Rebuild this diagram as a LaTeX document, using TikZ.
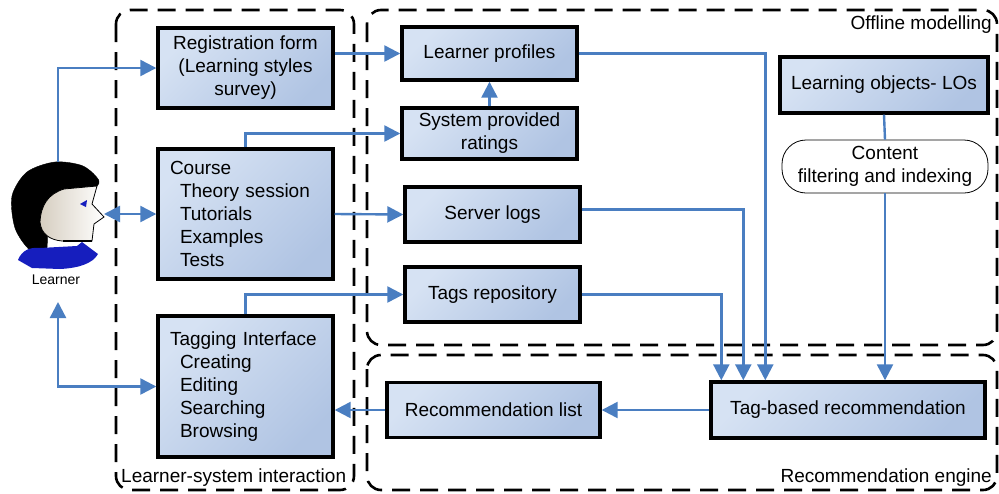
\documentclass[tikz,border=0pt]{standalone}
\usepackage{fontspec}
\setmainfont{Liberation Sans}
\usetikzlibrary{arrows.meta}
\definecolor{linkblue}{RGB}{74,126,193}
\definecolor{boxlight}{RGB}{214,226,243}
\definecolor{boxdark}{RGB}{176,196,227}
\definecolor{shirtblue}{RGB}{22,30,190}
\definecolor{skin}{RGB}{214,206,192}
\tikzset{
  databox/.style={draw=black, line width=3.4pt, top color=boxlight, bottom color=boxdark, shading angle=45, inner sep=0pt, font=\fontsize{19}{23}\selectfont},
  region/.style={draw=black, line width=2.6pt, dash pattern=on 18pt off 10pt, rounded corners=14pt},
  link/.style={draw=linkblue, line width=2.4pt},
  caption/.style={font=\fontsize{19}{23}\selectfont, inner sep=0pt},
  >={Triangle[length=16pt,width=16pt]},
}

\begin{document}
\begin{tikzpicture}[x=1pt, y=-1pt]
			%%%%% START %%%%%
			\useasboundingbox (0, 0) rectangle (999, 493);
			
			\draw[region] (116, 10) rectangle (354, 490);
			\draw[region] (367, 10) rectangle (997, 345);
			\draw[region] (367, 355) rectangle (997, 490);
			\node[caption, anchor=west] (lsi) at (121, 478) {Learner-system interaction};
			\node[caption, anchor=east] (offline) at (992, 25) {Offline modelling};
			\node[caption, anchor=east] (engine) at (992, 478) {Recommendation engine};
			
			% learner
			\draw[fill=black] plot[smooth cycle] coordinates {(30, 250) (15, 228) (12, 196) (27, 172) (55, 162) (83, 166) (99, 181) (90, 191) (58, 204) (48, 232) (46, 250)};
			\draw[line width=0.8pt, left color=skin, right color=white] (97, 186) -- (92, 204) -- (104, 217) -- (94, 224) -- (92, 241) -- (62, 241) .. controls (50, 240) and (41, 234) .. (40, 222) .. controls (41, 205) and (48, 194) .. (64, 189) -- cycle;
			\fill[shirtblue] (18, 260) .. controls (22, 250) and (30, 247) .. (40, 248) -- (77, 246) -- (82, 242) -- (98, 254) .. controls (93, 263) and (80, 268) .. (60, 269) -- (32, 268) -- cycle;
			\fill[shirtblue] (80, 204) -- (87, 200) -- (86, 207) -- cycle;
			\draw[line width=1.2pt] (63, 241) -- (92, 241);
			\node[inner sep=0pt, font=\fontsize{14}{16}\selectfont] (learner) at (56, 280) {Learner};
			\coordinate (lrtop) at (58, 162);
			\coordinate (lrface) at (104, 214);
			\coordinate (lrbot) at (58, 302);
			
			% learner-system interaction
			\node[databox, minimum width=175pt, minimum height=80pt, align=center] (reg) at (245.5, 68) {Registration form\\(Learning styles\\survey)};
			\node[databox, minimum width=175pt, minimum height=130pt, text width=151pt, align=left] (course) at (245.5, 214) {Course\\\hspace*{10pt}Theory session\\\hspace*{10pt}Tutorials\\\hspace*{10pt}Examples\\\hspace*{10pt}Tests};
			\node[databox, minimum width=175pt, minimum height=141pt, text width=151pt, align=left] (tagui) at (245.5, 386.5) {Tagging Interface\\\hspace*{10pt}Creating\\\hspace*{10pt}Editing\\\hspace*{10pt}Searching\\\hspace*{10pt}Browsing};
			
			% offline modelling
			\node[databox, minimum width=175pt, minimum height=53pt] (profiles) at (489.5, 53.5) {Learner profiles};
			\node[databox, minimum width=175pt, minimum height=51pt, align=center] (ratings) at (489.5, 133.5) {System provided\\ratings};
			\node[databox, minimum width=175pt, minimum height=55pt] (logs) at (492.5, 214.5) {Server logs};
			\node[databox, minimum width=175pt, minimum height=55pt] (tagrepo) at (492.5, 294.5) {Tags repository};
			\node[databox, minimum width=208pt, minimum height=56pt] (objects) at (884, 85) {Learning objects- LOs};
			\node[draw=black, line width=0.8pt, fill=white, rounded corners=24pt, minimum width=206pt, minimum height=53pt, align=center, inner sep=0pt, font=\fontsize{19}{23}\selectfont] (filter) at (885, 166.5) {Content\\filtering and indexing};
			
			% recommendation engine
			\node[databox, minimum width=213pt, minimum height=55pt] (reclist) at (493.5, 410) {Recommendation list};
			\node[databox, minimum width=274pt, minimum height=56pt] (tagrec) at (848, 410) {Tag-based recommendation};
			
			% links
			\draw[link, ->] (lrtop) |- (reg.west);
			\draw[link, <->] (lrface) -- (course.west);
			\draw[link, <->] (tagui.west) -| (lrbot);
			\draw[link, ->] (profiles.west -| reg.east) -- (profiles.west);
			\draw[link, ->] (ratings.north) -- (profiles.south);
			\draw[link, ->] (course.north) |- (ratings.west);
			\draw[link, ->] (course.east) -- (logs.west);
			\draw[link, ->] (tagui.north) |- (tagrepo.west);
			\draw[link, ->] (profiles.east) -| ([xshift=56pt]tagrec.north west);
			\draw[link, ->] ([yshift=5pt]logs.east) -| ([xshift=34pt]tagrec.north west);
			\draw[link, ->] (tagrepo.east) -| ([xshift=12pt]tagrec.north west);
			\draw[link] (objects.south) -- (filter.north);
			\draw[link, ->] (filter.south) -- (filter.south |- tagrec.north);
			\draw[link, ->] (tagrec.west) -- (reclist.east);
			\draw[link, ->] (reclist.west) -- (reclist.west -| tagui.east);
			
			%%%%% END %%%%%
\end{tikzpicture}
\end{document}
